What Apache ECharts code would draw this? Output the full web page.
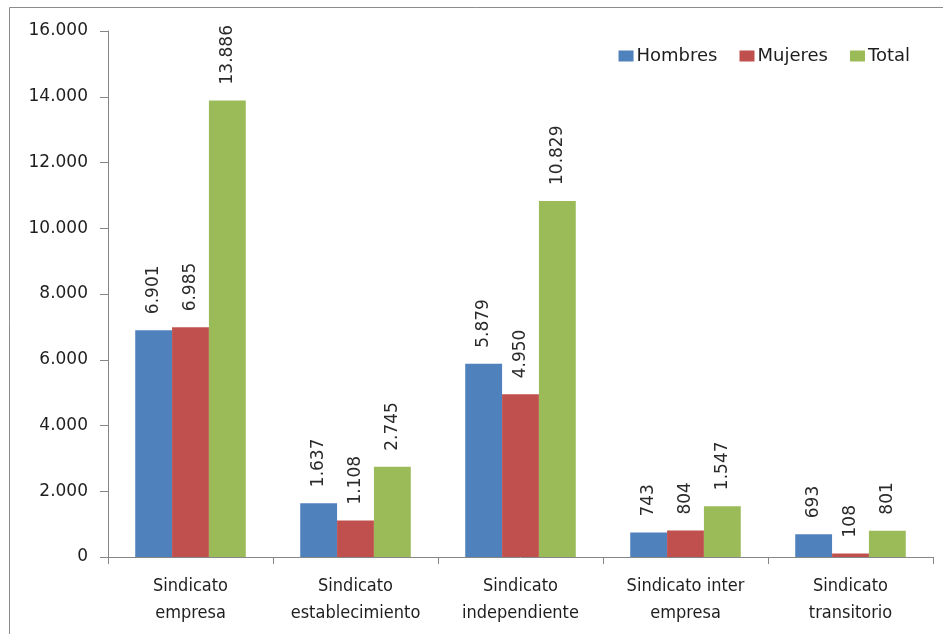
<!DOCTYPE html>
<html>
<head>
<meta charset="utf-8">
<script src="https://cdn.jsdelivr.net/npm/echarts@6/dist/echarts.min.js"></script>
<style>
html,body{margin:0;padding:0;background:#fff;}
#c{width:943px;height:634px;}
</style>
</head>
<body>
<div id="c"></div>
<script>
const categories = ['Sindicato\nempresa', 'Sindicato\nestablecimiento', 'Sindicato\nindependiente', 'Sindicato inter\nempresa', 'Sindicato\ntransitorio'];
const hombres = [6901, 1637, 5879, 743, 693];
const mujeres = [6985, 1108, 4950, 804, 108];
const total = [13886, 2745, 10829, 1547, 801];
const seriesNames = ['Hombres', 'Mujeres', 'Total'];
const colors = ['#4F81BD', '#C0504D', '#9BBB59'];

function fmt(v) {
  return String(Math.round(v)).replace(/\B(?=(\d{3})+(?!\d))/g, '.');
}

const chart = echarts.init(document.getElementById('c'));
const labelCfg = {
  show: true,
  position: 'top',
  rotate: 90,
  align: 'left',
  verticalAlign: 'middle',
  distance: 14,
  offset: [2, 0],
  fontFamily: 'DejaVu Sans',
  fontSize: 17,
  color: '#2a2a2a',
  formatter: p => fmt(p.value)
};
function mk(name, data, color) {
  return {
    name: name,
    type: 'bar',
    data: data,
    barGap: '0%',
    barCategoryGap: '33%',
    itemStyle: { color: color },
    label: labelCfg
  };
}
chart.setOption({
  animation: false,
  grid: { left: 108, right: 10, top: 31, bottom: 77 },
  legend: {
    data: seriesNames,
    right: 28,
    top: 42,
    itemWidth: 15,
    itemHeight: 11,
    itemGap: 22,
    icon: 'rect',
    textStyle: { fontFamily: 'DejaVu Sans', fontSize: 18, color: '#1e1e1e', padding: [0, 0, 0, -2] }
  },
  graphic: [{
    type: 'rect',
    shape: { x: 9.5, y: 7.5, width: 960, height: 660 },
    style: { fill: 'none', stroke: '#8c8c8c', lineWidth: 1 },
    silent: true
  }],
  xAxis: {
    type: 'category',
    data: categories,
    axisLine: { lineStyle: { color: '#868686' } },
    axisTick: { show: true, length: 7, alignWithLabel: false, lineStyle: { color: '#868686' } },
    axisLabel: {
      margin: 16,
      interval: 0,
      fontFamily: '"DejaVu Sans Condensed", "DejaVu Sans"',
      fontSize: 18,
      lineHeight: 27,
      color: '#1e1e1e'
    }
  },
  yAxis: {
    type: 'value',
    min: 0,
    max: 16000,
    interval: 2000,
    splitLine: { show: false },
    axisLine: { show: true, lineStyle: { color: '#868686' } },
    axisTick: { show: true, length: 8, lineStyle: { color: '#868686' } },
    axisLabel: {
      margin: 20,
      fontFamily: 'DejaVu Sans',
      fontSize: 17,
      color: '#1e1e1e',
      formatter: v => fmt(v)
    }
  },
  series: [
    mk(seriesNames[0], hombres, colors[0]),
    mk(seriesNames[1], mujeres, colors[1]),
    mk(seriesNames[2], total, colors[2])
  ]
});
</script>
</body>
</html>
